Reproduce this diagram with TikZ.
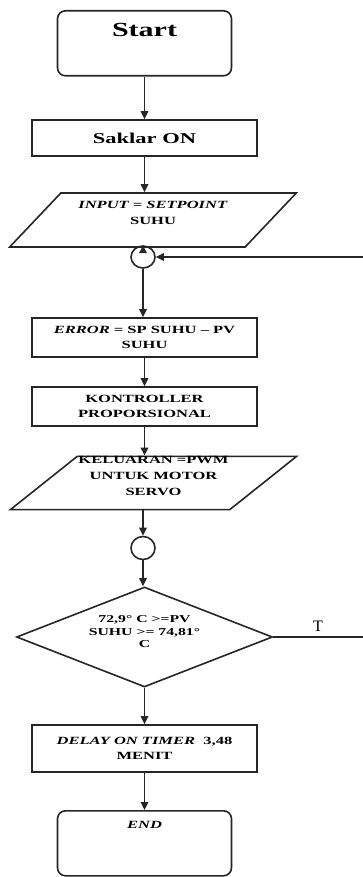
\documentclass[tikz,border=0pt]{standalone}
\usepackage{fontspec}
\setmainfont{Liberation Serif}[FakeStretch=1.5]
\newfontfamily\plainfont{Liberation Serif}
\usetikzlibrary{shapes.geometric,arrows.meta}

\begin{document}
\begin{tikzpicture}[x=1pt, y=-1pt,
    flowline/.style={draw=black!85, line width=1.6pt},
    arr/.style={flowline, -{Triangle[length=8pt,width=7.5pt]}},
    term/.style={flowline, rectangle, rounded corners=8pt, minimum width=174pt, inner sep=0pt, anchor=north},
    proc/.style={flowline, rectangle, minimum width=225pt, inner sep=2pt, align=center, font=\fontsize{11}{15}\selectfont\bfseries},
    io/.style={flowline, trapezium, trapezium stretches=true, trapezium left angle=42, trapezium right angle=138, minimum width=287pt, minimum height=54pt, inner sep=0pt, align=center, text depth=14pt, font=\fontsize{11}{16}\selectfont\bfseries},
    junc/.style={flowline, ellipse, minimum width=24pt, minimum height=22pt, inner sep=0pt},
    cond/.style={flowline, diamond, aspect=2.56, minimum width=256pt, minimum height=100pt, inner sep=0pt, align=center, text depth=10pt, font=\fontsize{10.5}{12.5}\selectfont\bfseries}
]
    \useasboundingbox (0,0) rectangle (363,877);

    % Terminals
    \node[term, text height=26pt, text depth=39pt, font=\fontsize{20}{24}\selectfont\bfseries] (start) at (144.5,10) {Start};
    \node[term, text height=18pt, text depth=47pt, font=\fontsize{11}{13}\selectfont\bfseries\itshape] (endb) at (144.5,810) {END};

    % Steps of the loop
    \node[proc, minimum height=36pt, font=\fontsize{15}{18}\selectfont\bfseries] (saklar) at (144.5,138) {Saklar ON};
    \node[io] (inp) at (153,220) {\textit{INPUT = SETPOINT}\\SUHU};
    \node[junc] (j1) at (143,257) {};
    \node[proc, minimum height=39pt] (err) at (144.5,337.5) {\textit{ERROR} = SP SUHU -- PV\\SUHU};
    \node[proc, minimum height=39pt] (kp) at (144.5,406.5) {KONTROLLER\\PROPORSIONAL};
    \node[io, minimum height=52pt, trapezium left angle=39, trapezium right angle=141] (outp) at (153.5,483) {KELUARAN =PWM\\UNTUK MOTOR\\SERVO};
    \node[junc, minimum height=23pt] (j2) at (143,548) {};
    \node[cond] (dec) at (144.5,637) {72,9° C >=PV\\SUHU >= 74,81°\\C};
    \node[proc, minimum height=47pt] (delay) at (144.5,748.5) {\textit{DELAY ON TIMER}\ \ 3,48\\MENIT};
    \node[font=\plainfont\fontsize{16}{18}\selectfont] (tlab) at (318,626) {T};

    % Return path (runs off the right edge)
    \coordinate (retin) at (363,257);
    \coordinate (retout) at (363,637);

    % Connectors
    \draw[arr] (start) -- (start.south |- saklar.north);
    \draw[arr] (saklar) -- (saklar.south |- inp.north);
    \draw[arr] (j1 |- inp.south) -- (j1);
    \draw[arr] (j1) -- (j1 |- err.north);
    \draw[arr] (err) -- (kp);
    \draw[arr] (kp) -- (kp.south |- outp.north);
    \draw[arr] (j2 |- outp.south) -- (j2);
    \draw[arr] (j2) -- (j2 |- dec.north);
    \draw[arr] (dec) -- (delay);
    \draw[arr] (delay) -- (endb);
    \draw[flowline] (dec.east) -- (retout);
    \draw[arr] (retin) -- (j1);
\end{tikzpicture}
\end{document}
